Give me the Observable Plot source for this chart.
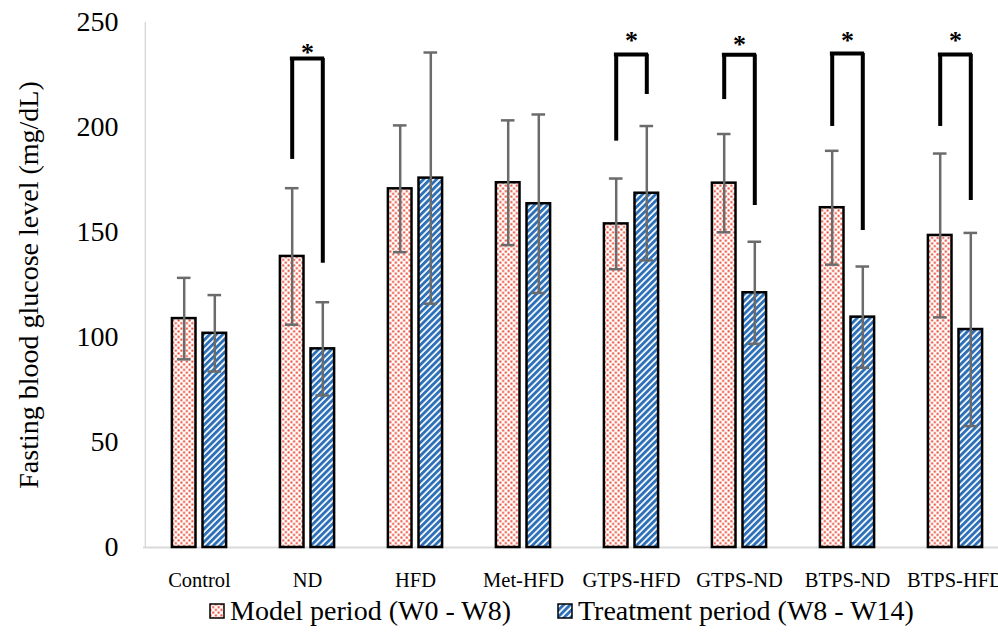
<!DOCTYPE html>
<html><head><meta charset="utf-8">
<script src="https://cdn.jsdelivr.net/npm/d3@7"></script>
<script src="https://cdn.jsdelivr.net/npm/@observablehq/plot@0.6"></script>
<style>
html,body{margin:0;padding:0;background:#fff;overflow:hidden;}
#wrap{width:998px;overflow:hidden;font-family:"Liberation Serif","Times New Roman",serif;color:#000;}
#wrap > svg{max-width:none !important;}
#patterns{position:absolute;left:0;top:0;width:0;height:0;}
.legend{display:flex;align-items:center;height:32px;padding-left:209px;font-size:28px;white-space:nowrap;}
.item{display:flex;align-items:center;margin-right:46px;}
.item svg{margin-right:5px;}
</style></head><body>
<svg id="patterns" width="0" height="0" aria-hidden="true"><defs>
  <pattern id="dots" patternUnits="userSpaceOnUse" width="5.5" height="5.5">
    <rect width="5.5" height="5.5" fill="#fff"></rect>
    <rect x="0.4" y="0.4" width="2" height="2" fill="#e8402a"></rect>
    <rect x="3.15" y="3.15" width="2" height="2" fill="#e8402a"></rect>
  </pattern>
  <pattern id="stripes" patternUnits="userSpaceOnUse" width="4.6" height="4.6" patternTransform="rotate(45)">
    <rect width="4.6" height="4.6" fill="#fff"></rect>
    <rect width="2.9" height="4.6" fill="#2e70b8"></rect>
  </pattern>
</defs></svg>
<div id="wrap"></div>
<script>
// ---- data ----
const groups = ["Control","ND","HFD","Met-HFD","GTPS-HFD","GTPS-ND","BTPS-ND","BTPS-HFD"];
const modelMean = [109.0, 138.6, 170.8, 173.7, 154.1, 173.5, 161.8, 148.6];
const modelErr  = [19.4, 32.5, 30.2, 29.7, 21.6, 23.4, 27.1, 39.0];
const treatMean = [102.0, 94.6, 175.9, 163.7, 168.7, 121.3, 109.7, 103.8];
const treatErr  = [18.2, 22.2, 59.8, 42.5, 32.0, 24.3, 24.1, 46.0];
const sigGroups = ["ND","GTPS-HFD","GTPS-ND","BTPS-ND","BTPS-HFD"];
const sigTop    = [232.9, 234.8, 234.6, 235.2, 234.8];
const sigLeft   = [184.8, 193.5, 213.3, 200.5, 200.5];
const sigRight  = [135.4, 215.7, 162.9, 151.0, 165.2];
const sigStar   = [239.0, 244.8, 242.9, 244.8, 244.8];
const yTicks = [0, 50, 100, 150, 200, 250];
const yTitle = "Fasting blood glucose level (mg/dL)";
const seriesNames = ["Model period (W0 - W8)", "Treatment period (W8 - W14)"];

const model = groups.map((g, i) => ({g, v: modelMean[i], lo: modelMean[i] - modelErr[i], hi: modelMean[i] + modelErr[i]}));
const treat = groups.map((g, i) => ({g, v: treatMean[i], lo: treatMean[i] - treatErr[i], hi: treatMean[i] + treatErr[i]}));
const sig = sigGroups.map((g, i) => ({g, top: sigTop[i], left: sigLeft[i], right: sigRight[i], star: sigStar[i]}));

const HALF = 54.19, OFF = 15.3, BAR_INSET = 42.2, CAP_INSET = 47.2;
const errColor = "#6b6b6b";

const chart = Plot.plot({
  width: 1010, height: 595,
  marginLeft: 143, marginRight: 0, marginTop: 22, marginBottom: 48,
  style: {fontFamily: "Liberation Serif, Times New Roman, serif", color: "#000", background: "#fff", maxWidth: "none"},
  x: {domain: groups, padding: 0, label: null},
  y: {domain: [0, 250], label: null},
  marks: [
    Plot.ruleX([groups[0]], {x: d => d, dx: -HALF, stroke: "#d9d9d9", strokeWidth: 1.5}),
    Plot.ruleY([0], {stroke: "#d9d9d9", strokeWidth: 2}),
    Plot.axisY({ticks: yTicks, tickSize: 0, tickPadding: 25, fontSize: 28, label: yTitle, labelAnchor: "center", labelOffset: 125, labelArrow: false}),
    Plot.axisX({tickSize: 0, tickPadding: 25, fontSize: 20.5, label: null}),
    Plot.barY(model, {x: "g", y: "v", fill: "url(#dots)", stroke: "#000", strokeWidth: 2.5, insetLeft: BAR_INSET, insetRight: BAR_INSET, dx: -OFF}),
    Plot.barY(treat, {x: "g", y: "v", fill: "url(#stripes)", stroke: "#000", strokeWidth: 2.5, insetLeft: BAR_INSET, insetRight: BAR_INSET, dx: OFF}),
    Plot.ruleX(model, {x: "g", y1: "lo", y2: "hi", stroke: errColor, strokeWidth: 2.5, dx: -OFF}),
    Plot.ruleX(treat, {x: "g", y1: "lo", y2: "hi", stroke: errColor, strokeWidth: 2.5, dx: OFF}),
    Plot.tickY(model, {x: "g", y: "hi", stroke: errColor, strokeWidth: 2.5, insetLeft: CAP_INSET, insetRight: CAP_INSET, dx: -OFF}),
    Plot.tickY(model, {x: "g", y: "lo", stroke: errColor, strokeWidth: 2.5, insetLeft: CAP_INSET, insetRight: CAP_INSET, dx: -OFF}),
    Plot.tickY(treat, {x: "g", y: "hi", stroke: errColor, strokeWidth: 2.5, insetLeft: CAP_INSET, insetRight: CAP_INSET, dx: OFF}),
    Plot.tickY(treat, {x: "g", y: "lo", stroke: errColor, strokeWidth: 2.5, insetLeft: CAP_INSET, insetRight: CAP_INSET, dx: OFF}),
    Plot.ruleX(sig, {x: "g", y1: "left", y2: "top", stroke: "#000", strokeWidth: 4, dx: -OFF}),
    Plot.ruleX(sig, {x: "g", y1: "right", y2: "top", stroke: "#000", strokeWidth: 4, dx: OFF}),
    Plot.tickY(sig, {x: "g", y: "top", stroke: "#000", strokeWidth: 4, insetLeft: HALF - OFF - 2, insetRight: HALF - OFF - 2}),
    Plot.text(sig, {x: "g", y: "star", text: () => "*", fontSize: 26, fontWeight: "bold", dy: 7, fill: "#000"})
  ]
});

const wrap = document.getElementById("wrap");
wrap.appendChild(chart);
chart.style.maxWidth = "none";

// legend
const legend = d3.select(wrap).append("div").attr("class", "legend");
[["url(#dots)", seriesNames[0]], ["url(#stripes)", seriesNames[1]]].forEach(([fill, name]) => {
  const it = legend.append("div").attr("class", "item");
  const s = it.append("svg").attr("width", 16).attr("height", 16);
  s.append("rect").attr("x", 1).attr("y", 1).attr("width", 14).attr("height", 14).attr("fill", fill).attr("stroke", "#000").attr("stroke-width", 1.5);
  it.append("span").text(name);
});
</script>
</body></html>
